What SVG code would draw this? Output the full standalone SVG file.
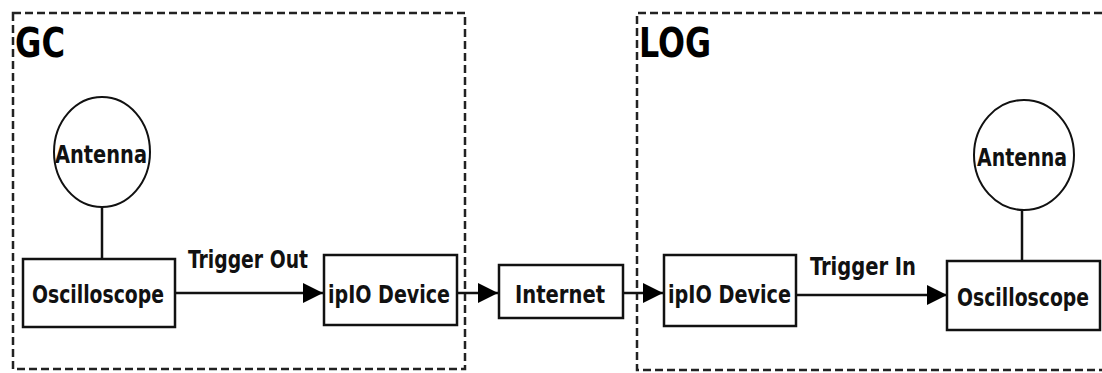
<svg xmlns="http://www.w3.org/2000/svg" width="1102" height="373" viewBox="0 0 1102 373">
<defs>
<marker id="arr" markerUnits="userSpaceOnUse" markerWidth="20" markerHeight="20" refX="20" refY="10" orient="auto">
<path d="M0,0 L20,10 L0,20 z" fill="#000"/>
</marker>
<style>
.grp{fill:none;stroke:#222;stroke-width:2.5;stroke-dasharray:8 4}
.box{fill:#fff;stroke:#111;stroke-width:2.5}
.ant{fill:#fff;stroke:#111;stroke-width:2}
.lbl{font-family:"DejaVu Sans Condensed","DejaVu Sans",sans-serif;font-weight:bold;font-size:25px;fill:#111}
.ttl{font-family:"DejaVu Sans Condensed","DejaVu Sans",sans-serif;font-weight:bold;font-size:41px;fill:#000}
.ln{stroke:#111;stroke-width:2.5;fill:none}
</style>
</defs>
<rect width="1102" height="373" fill="#fff"/>
<g id="group-gc">
<rect class="grp" x="13" y="13" width="452" height="356"/>
<text class="ttl" x="15" y="57" textLength="50" lengthAdjust="spacingAndGlyphs">GC</text>
</g>
<g id="group-log">
<path class="grp" d="M1102,13 H637 V370 H1102"/>
<text class="ttl" x="639" y="57" textLength="72" lengthAdjust="spacingAndGlyphs">LOG</text>
</g>
<g id="connectors">
<line class="ln" x1="102" y1="207" x2="102" y2="259"/>
<line class="ln" x1="1022" y1="210" x2="1022" y2="261"/>
<line class="ln" x1="175" y1="293" x2="323" y2="293" marker-end="url(#arr)"/>
<line class="ln" x1="457" y1="293" x2="498" y2="293" marker-end="url(#arr)"/>
<line class="ln" x1="623" y1="293" x2="663" y2="293" marker-end="url(#arr)"/>
<line class="ln" x1="796" y1="295" x2="947" y2="295" marker-end="url(#arr)"/>
<text class="lbl" x="188" y="268" textLength="120" lengthAdjust="spacingAndGlyphs">Trigger Out</text>
<text class="lbl" x="810" y="275" textLength="106" lengthAdjust="spacingAndGlyphs">Trigger In</text>
</g>
<g id="antenna-gc">
<ellipse class="ant" cx="102" cy="152" rx="48" ry="55"/>
<text class="lbl" x="55" y="163" textLength="92" lengthAdjust="spacingAndGlyphs">Antenna</text>
</g>
<g id="osc-gc">
<rect class="box" x="23" y="259" width="152" height="68"/>
<text class="lbl" x="32" y="303" textLength="132" lengthAdjust="spacingAndGlyphs">Oscilloscope</text>
</g>
<g id="ipio-gc">
<rect class="box" x="324" y="255" width="133" height="70"/>
<text class="lbl" x="328" y="303" textLength="122" lengthAdjust="spacingAndGlyphs">ipIO Device</text>
</g>
<g id="internet">
<rect class="box" x="499" y="265" width="124" height="53"/>
<text class="lbl" x="515" y="303" textLength="90" lengthAdjust="spacingAndGlyphs">Internet</text>
</g>
<g id="ipio-log">
<rect class="box" x="664" y="255" width="132" height="71"/>
<text class="lbl" x="668" y="303" textLength="123" lengthAdjust="spacingAndGlyphs">ipIO Device</text>
</g>
<g id="osc-log">
<rect class="box" x="947" y="261" width="153" height="69"/>
<text class="lbl" transform="translate(1023,306) scale(1,1.18)" x="0" y="0" text-anchor="middle" style="font-size:21px" textLength="132" lengthAdjust="spacingAndGlyphs">Oscilloscope</text>
</g>
<g id="antenna-log">
<ellipse class="ant" cx="1024" cy="155" rx="50" ry="55"/>
<text class="lbl" x="977" y="166" textLength="90" lengthAdjust="spacingAndGlyphs">Antenna</text>
</g>
</svg>
